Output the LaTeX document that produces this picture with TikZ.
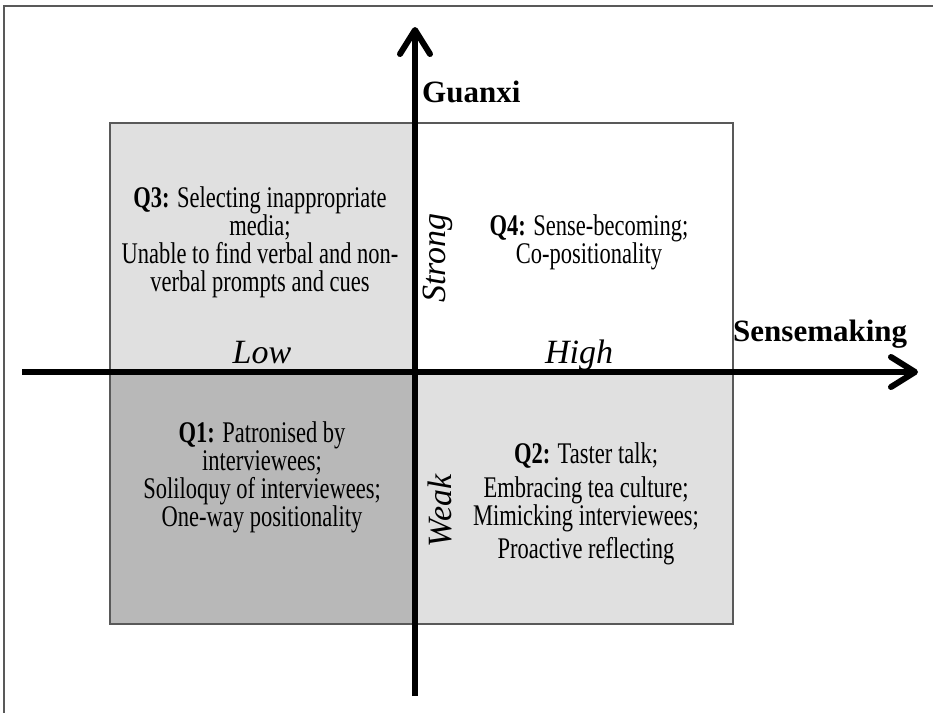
\documentclass[tikz,border=0pt]{standalone}
\usepackage{fontspec}
\setmainfont{Liberation Serif}
\newfontfamily\bodyfont{Liberation Serif}[FakeStretch=0.75]
\usetikzlibrary{arrows.meta}
\definecolor{lightq}{gray}{0.88}
\definecolor{darkq}{gray}{0.72}
\definecolor{edgegray}{gray}{0.35}
\begin{document}
\begin{tikzpicture}[x=1pt,y=-1pt,
  axis/.style={line width=6pt, -{Straight Barb[length=24pt,width=30pt,round]}},
  quadbox/.style={draw=edgegray, line width=1.2pt},
  body/.style={font=\bodyfont\fontsize{30}{28}\selectfont, align=center, inner sep=0pt},
  axlabel/.style={font=\fontsize{31}{31}\selectfont\bfseries, inner sep=0pt},
  level/.style={font=\fontsize{34}{34}\selectfont\itshape, inner sep=0pt}]
\useasboundingbox (0,0) rectangle (933,712);
\draw[edgegray, line width=2pt] (4,720) -- (4,6) -- (940,6);
\filldraw[quadbox, fill=lightq] (110,123) rectangle (415,372);
\filldraw[quadbox, fill=white] (415,123) rectangle (733,372);
\filldraw[quadbox, fill=darkq] (110,372) rectangle (415,624);
\filldraw[quadbox, fill=lightq] (415,372) rectangle (733,624);
% axes
\coordinate (xl) at (22,372);
\coordinate (xr) at (918,372);
\coordinate (yb) at (415,696);
\coordinate (yt) at (415,27);
\draw[axis] (xl) -- (xr);
\draw[axis] (yb) -- (yt);
% axis labels
\node[axlabel, anchor=base west] (guanxi) at (422,102) {Guanxi};
\node[axlabel, anchor=base west] (sense) at (733,341) {Sensemaking};
\node[level, anchor=base] (low) at (262,363) {Low};
\node[level, anchor=base] (high) at (579,363) {High};
\node[level, rotate=90] (strong) at (438,258) {Strong};
\node[level, rotate=90] (weak) at (440,511) {Weak};
% quadrant texts
\node[body] (q3) at (260,242) {\textbf{Q3:} Selecting inappropriate\\ media;\\ Unable to find verbal and non-\\ verbal prompts and cues};
\node[body] (q4) at (589,242) {\textbf{Q4:} Sense-becoming;\\ Co-positionality};
\node[body] (q1) at (262,477) {\textbf{Q1:} Patronised by\\ interviewees;\\ Soliloquy of interviewees;\\ One-way positionality};
\node[body] (q2) at (586,504) {\textbf{Q2:} Taster talk;\\[6pt] Embracing tea culture;\\ Mimicking interviewees;\\[5pt] Proactive reflecting};
\end{tikzpicture}
\end{document}
